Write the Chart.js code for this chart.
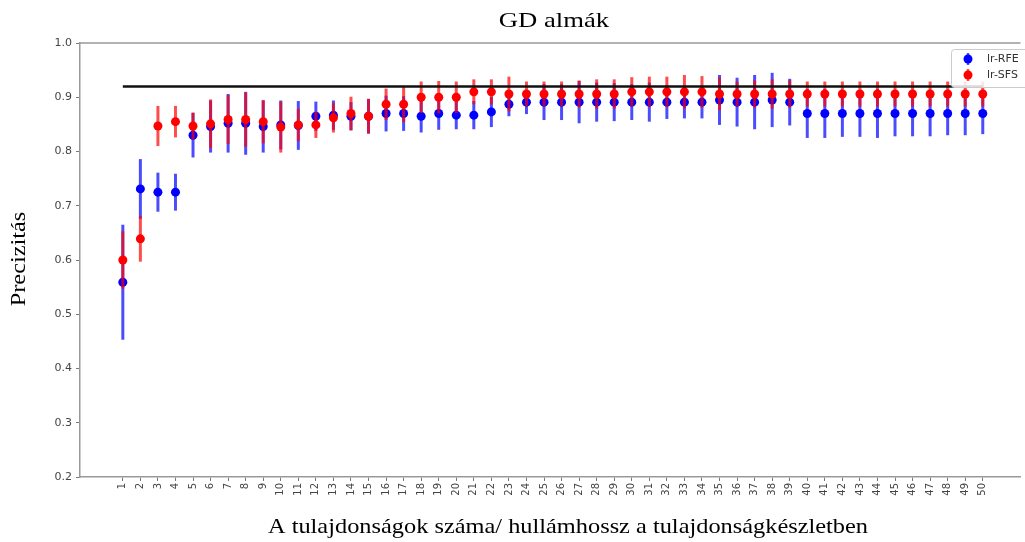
<!DOCTYPE html>
<html>
<head>
<meta charset="utf-8">
<script src="https://cdn.jsdelivr.net/npm/chart.js@4"></script>
<style>
  body { margin: 0; background: #fff; }
  #wrap { width: 1025px; height: 542px; }
</style>
</head>
<body>
<div id="wrap"><canvas id="prec-chart"></canvas></div>
<script>
// number of features / wavelengths in the feature set
const xLabels = [1, 2, 3, 4, 5, 6, 7, 8, 9, 10, 11, 12, 13, 14, 15, 16, 17, 18, 19, 20,
  21, 22, 23, 24, 25, 26, 27, 28, 29, 30, 31, 32, 33, 34, 35, 36, 37, 38, 39, 40,
  41, 42, 43, 44, 45, 46, 47, 48, 49, 50];

// lr-RFE precision mean and std
const rfeMean = [0.559, 0.731, 0.725, 0.725, 0.830, 0.846, 0.852, 0.852, 0.846, 0.849,
  0.848, 0.865, 0.867, 0.865, 0.865, 0.870, 0.870, 0.865, 0.870, 0.867,
  0.867, 0.873, 0.887, 0.891, 0.891, 0.891, 0.891, 0.891, 0.891, 0.891,
  0.891, 0.891, 0.891, 0.891, 0.895, 0.891, 0.891, 0.895, 0.891, 0.870,
  0.870, 0.870, 0.870, 0.870, 0.870, 0.870, 0.870, 0.870, 0.870, 0.870];
const rfeErr = [0.106, 0.055, 0.036, 0.034, 0.041, 0.048, 0.054, 0.058, 0.048, 0.045,
  0.045, 0.027, 0.027, 0.026, 0.032, 0.033, 0.032, 0.030, 0.030, 0.026,
  0.026, 0.028, 0.022, 0.022, 0.033, 0.033, 0.039, 0.036, 0.035, 0.033,
  0.036, 0.031, 0.030, 0.030, 0.046, 0.045, 0.050, 0.050, 0.043, 0.045,
  0.045, 0.043, 0.043, 0.045, 0.042, 0.042, 0.042, 0.040, 0.040, 0.038];

// lr-SFS precision mean and std
const sfsMean = [0.600, 0.639, 0.847, 0.855, 0.847, 0.851, 0.859, 0.859, 0.855, 0.845,
  0.849, 0.849, 0.862, 0.870, 0.865, 0.887, 0.887, 0.900, 0.900, 0.900,
  0.910, 0.910, 0.906, 0.906, 0.906, 0.906, 0.906, 0.906, 0.906, 0.910,
  0.910, 0.910, 0.910, 0.910, 0.906, 0.906, 0.906, 0.906, 0.906, 0.906,
  0.906, 0.906, 0.906, 0.906, 0.906, 0.906, 0.906, 0.906, 0.906, 0.906];
const sfsErr = [0.053, 0.042, 0.037, 0.029, 0.025, 0.045, 0.045, 0.050, 0.040, 0.047,
  0.030, 0.024, 0.027, 0.031, 0.032, 0.029, 0.033, 0.029, 0.030, 0.029,
  0.023, 0.023, 0.032, 0.023, 0.023, 0.023, 0.025, 0.027, 0.027, 0.027,
  0.028, 0.028, 0.031, 0.029, 0.030, 0.023, 0.025, 0.027, 0.025, 0.023,
  0.023, 0.023, 0.023, 0.023, 0.023, 0.023, 0.023, 0.023, 0.023, 0.023];

// all-features reference level
const refLevel = 0.92;

const serif = "'Liberation Serif', 'Times New Roman', serif";
const sans = "'DejaVu Sans', sans-serif";

// vertical std bars, drawn just before the points of the same dataset
const errorBars = {
  id: 'errorBars',
  beforeDatasetDraw(chart, args) {
    const ds = chart.data.datasets[args.index];
    if (!ds.errors) return;
    const { ctx, scales: { x, y } } = chart;
    ctx.save();
    ctx.strokeStyle = ds.barColor;
    ctx.lineWidth = 3;
    ds.data.forEach((p, i) => {
      const px = x.getPixelForValue(p.x);
      ctx.beginPath();
      ctx.moveTo(px, y.getPixelForValue(p.y - ds.errors[i]));
      ctx.lineTo(px, y.getPixelForValue(p.y + ds.errors[i]));
      ctx.stroke();
    });
    ctx.restore();
  }
};

// stretched serif text helper
function drawText(ctx, text, x, y, sx, angle) {
  ctx.save();
  ctx.translate(x, y);
  if (angle) ctx.rotate(angle);
  ctx.scale(sx, 1);
  ctx.font = '21px ' + serif;
  ctx.fillText(text, 0, 0);
  ctx.restore();
}

// titles, top frame line and the legend box
const decorations = {
  id: 'decorations',
  afterDraw(chart) {
    const { ctx, chartArea: a } = chart;
    ctx.save();
    ctx.strokeStyle = '#999';
    ctx.lineWidth = 1.5;
    ctx.beginPath();
    ctx.moveTo(a.left, a.top);
    ctx.lineTo(a.right, a.top);
    ctx.stroke();

    ctx.fillStyle = '#000';
    ctx.textAlign = 'center';
    ctx.textBaseline = 'alphabetic';
    drawText(ctx, 'GD almák', 554, 27, 1.27, 0);
    drawText(ctx, 'A tulajdonságok száma/ hullámhossz a tulajdonságkészletben', 568, 533, 1.16, 0);
    drawText(ctx, 'Precizitás', 25, 259, 1.16, -Math.PI / 2);

    // legend
    ctx.fillStyle = 'rgba(255,255,255,0.85)';
    ctx.strokeStyle = '#ccc';
    ctx.lineWidth = 1;
    ctx.beginPath();
    ctx.roundRect(951.5, 49.5, 90, 38, 3);
    ctx.fill();
    ctx.stroke();
    const items = [['lr-RFE', '#0000ff', 'rgba(0,0,255,0.7)', 59], ['lr-SFS', '#ff0000', 'rgba(255,0,0,0.7)', 75]];
    ctx.font = '11px ' + sans;
    ctx.textAlign = 'left';
    ctx.textBaseline = 'middle';
    items.forEach(([label, c, bar, yy]) => {
      ctx.strokeStyle = bar;
      ctx.lineWidth = 2.5;
      ctx.beginPath();
      ctx.moveTo(968, yy - 6);
      ctx.lineTo(968, yy + 6);
      ctx.stroke();
      ctx.fillStyle = c;
      ctx.beginPath();
      ctx.arc(968, yy, 4.5, 0, Math.PI * 2);
      ctx.fill();
      ctx.fillStyle = '#333';
      ctx.fillText(label, 987, yy);
    });
    ctx.restore();
  }
};

const toPoints = (vals) => vals.map((v, i) => ({ x: xLabels[i], y: v }));

new Chart(document.getElementById('prec-chart'), {
  type: 'scatter',
  data: {
    datasets: [
      {
        label: 'all',
        data: [{ x: xLabels[0], y: refLevel }, { x: xLabels[xLabels.length - 1], y: refLevel }],
        showLine: true,
        borderColor: '#111',
        borderWidth: 2.5,
        pointRadius: 0,
        order: 0
      },
      {
        label: 'lr-SFS',
        data: toPoints(sfsMean),
        errors: sfsErr,
        barColor: 'rgba(255,0,0,0.7)',
        backgroundColor: '#ff0000',
        borderWidth: 0,
        pointRadius: 4.5,
        order: 1
      },
      {
        label: 'lr-RFE',
        data: toPoints(rfeMean),
        errors: rfeErr,
        barColor: 'rgba(0,0,255,0.7)',
        backgroundColor: '#0000ff',
        borderWidth: 0,
        pointRadius: 4.5,
        order: 2
      }
    ]
  },
  options: {
    responsive: true,
    maintainAspectRatio: false,
    animation: false,
    devicePixelRatio: 1,
    layout: { padding: { top: 43, left: 0, right: 0, bottom: 0 } },
    plugins: {
      legend: { display: false },
      tooltip: { enabled: false }
    },
    scales: {
      x: {
        type: 'linear',
        min: -1.44,
        max: 52.15,
        afterBuildTicks: (s) => { s.ticks = xLabels.map(v => ({ value: v })); },
        afterFit: (s) => { s.height = 65; },
        ticks: {
          autoSkip: false,
          minRotation: 90,
          maxRotation: 90,
          padding: 2,
          color: '#444',
          font: { family: sans, size: 10 },
          callback: (v) => String(v)
        },
        grid: { drawOnChartArea: false, tickLength: 4, color: '#777' },
        border: { color: '#999', width: 1.5 }
      },
      y: {
        min: 0.2,
        max: 1.0,
        afterFit: (s) => { s.width = 80; },
        ticks: {
          stepSize: 0.1,
          padding: 4,
          color: '#444',
          font: { family: sans, size: 11 },
          callback: (v) => v.toFixed(1)
        },
        grid: { drawOnChartArea: false, tickLength: 4, color: '#777' },
        border: { color: '#999', width: 1.5 }
      }
    }
  },
  plugins: [errorBars, decorations]
});
</script>
</body>
</html>
